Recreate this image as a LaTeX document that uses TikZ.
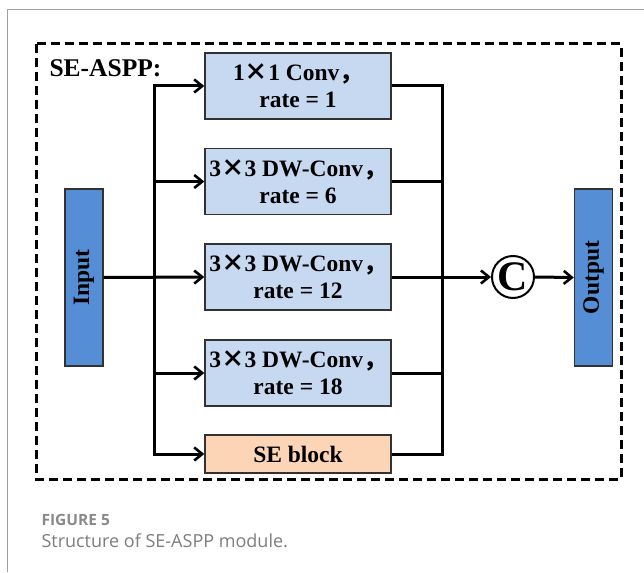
\documentclass[tikz,border=0pt]{standalone}
\usepackage{fontspec}
\setmainfont{Liberation Serif}
\newfontfamily\capfont{Open Sans}
\newfontfamily\cjkfont{Noto Sans CJK SC}
\usetikzlibrary{arrows.meta,positioning}

\definecolor{convblue}{RGB}{198,217,240}
\definecolor{ioblue}{RGB}{85,142,213}
\definecolor{sepeach}{RGB}{251,213,181}
\definecolor{edgegray}{RGB}{50,50,50}
\definecolor{pagegray}{RGB}{160,160,160}
\definecolor{capgray}{RGB}{125,125,125}

% full-width comma and wide multiplication sign
\newcommand{\fc}{{\cjkfont\bfseries ，}}
\newcommand{\mx}{{\cjkfont ×}}

\tikzset{
  convbox/.style={draw=edgegray, line width=1.4pt, fill=convblue,
    minimum width=186pt, minimum height=66pt, inner sep=0pt,
    align=center, font=\bfseries\fontsize{23.5}{27}\selectfont},
  sebox/.style={convbox, fill=sepeach, minimum height=38pt},
  iobox/.style={draw=edgegray, line width=1.4pt, fill=ioblue,
    minimum width=38pt, minimum height=177pt, inner sep=0pt},
  iolabel/.style={rotate=90, font=\bfseries\fontsize{23.5}{28}\selectfont},
  conn/.style={line width=3pt, line join=miter},
  arr/.style={conn, -{Straight Barb[length=8pt,width=13pt,line width=2.6pt]}},
}

\begin{document}
\begin{tikzpicture}[x=1pt,y=-1pt]
  \useasboundingbox (0,0) rectangle (644,572);

  % page frame lines
  \draw[pagegray, line width=1pt] (644,10) -- (7,10) -- (7,572);

  % module outline
  \draw[line width=3pt, dash pattern=on 9pt off 5pt]
    (36,44) rectangle (621,479);
  \node[anchor=west, font=\bfseries\fontsize{25.5}{30}\selectfont]
    (title) at (46,68) {SE-ASPP:};

  % branches
  \node[convbox] (b1) at (298,86)    {1\mx1 Conv\fc\\rate = 1};
  \node[convbox] (b2) at (298,181.5) {3\mx3 DW-Conv\fc\\rate = 6};
  \node[convbox] (b3) at (298,277)   {3\mx3 DW-Conv\fc\\rate = 12};
  \node[convbox] (b4) at (298,373)   {3\mx3 DW-Conv\fc\\rate = 18};
  \node[sebox]   (se) at (298,454)   {SE block};

  % input / output
  \node[iobox] (in) at (84,277.5) {};
  \node[iolabel] (inl) at (in.center) {Input};
  \node[iobox] (out) at (593.5,277.5) {};
  \node[iolabel] (outl) at (out.center) {Output};

  % concatenation
  \node[circle, draw, line width=2pt, minimum size=42pt, inner sep=0pt,
        font=\bfseries\fontsize{42}{42}\selectfont] (cat) at (513,277)
        {\raisebox{-1.5pt}{C}};

  % bus positions
  \coordinate (lbus) at (154,277);
  \coordinate (rbus) at (442,277);

  % fan-out
  \draw[arr] (lbus |- in.east) |- (b1.west);
  \draw[arr] (lbus |- in.east) |- (se.west);
  \draw[arr] (lbus |- b2.west) -- (b2.west);
  \draw[arr] (lbus |- b4.west) -- (b4.west);
  \draw[arr] (in.east) -- (b3.west);

  % fan-in
  \draw[conn] (b1.east) -| (rbus |- se.east) -- (se.east);
  \draw[conn] (b2.east) -- (rbus |- b2.east);
  \draw[conn] (b3.east) -- (rbus |- b3.east);
  \draw[conn] (b4.east) -- (rbus |- b4.east);
  \draw[arr] (rbus |- cat.west) -- (cat.west);
  \draw[arr] (cat.east) -- (out.west);

  % caption
  \node[anchor=west, text=capgray!90!white, font=\capfont\bfseries\fontsize{15.5}{18}\selectfont]
    (fig) at (38,520) {FIGURE 5};
  \node[anchor=west, text=capgray, font=\capfont\fontsize{18}{20}\selectfont]
    (cap) at (38,541) {Structure of SE-ASPP module.};
\end{tikzpicture}
\end{document}
